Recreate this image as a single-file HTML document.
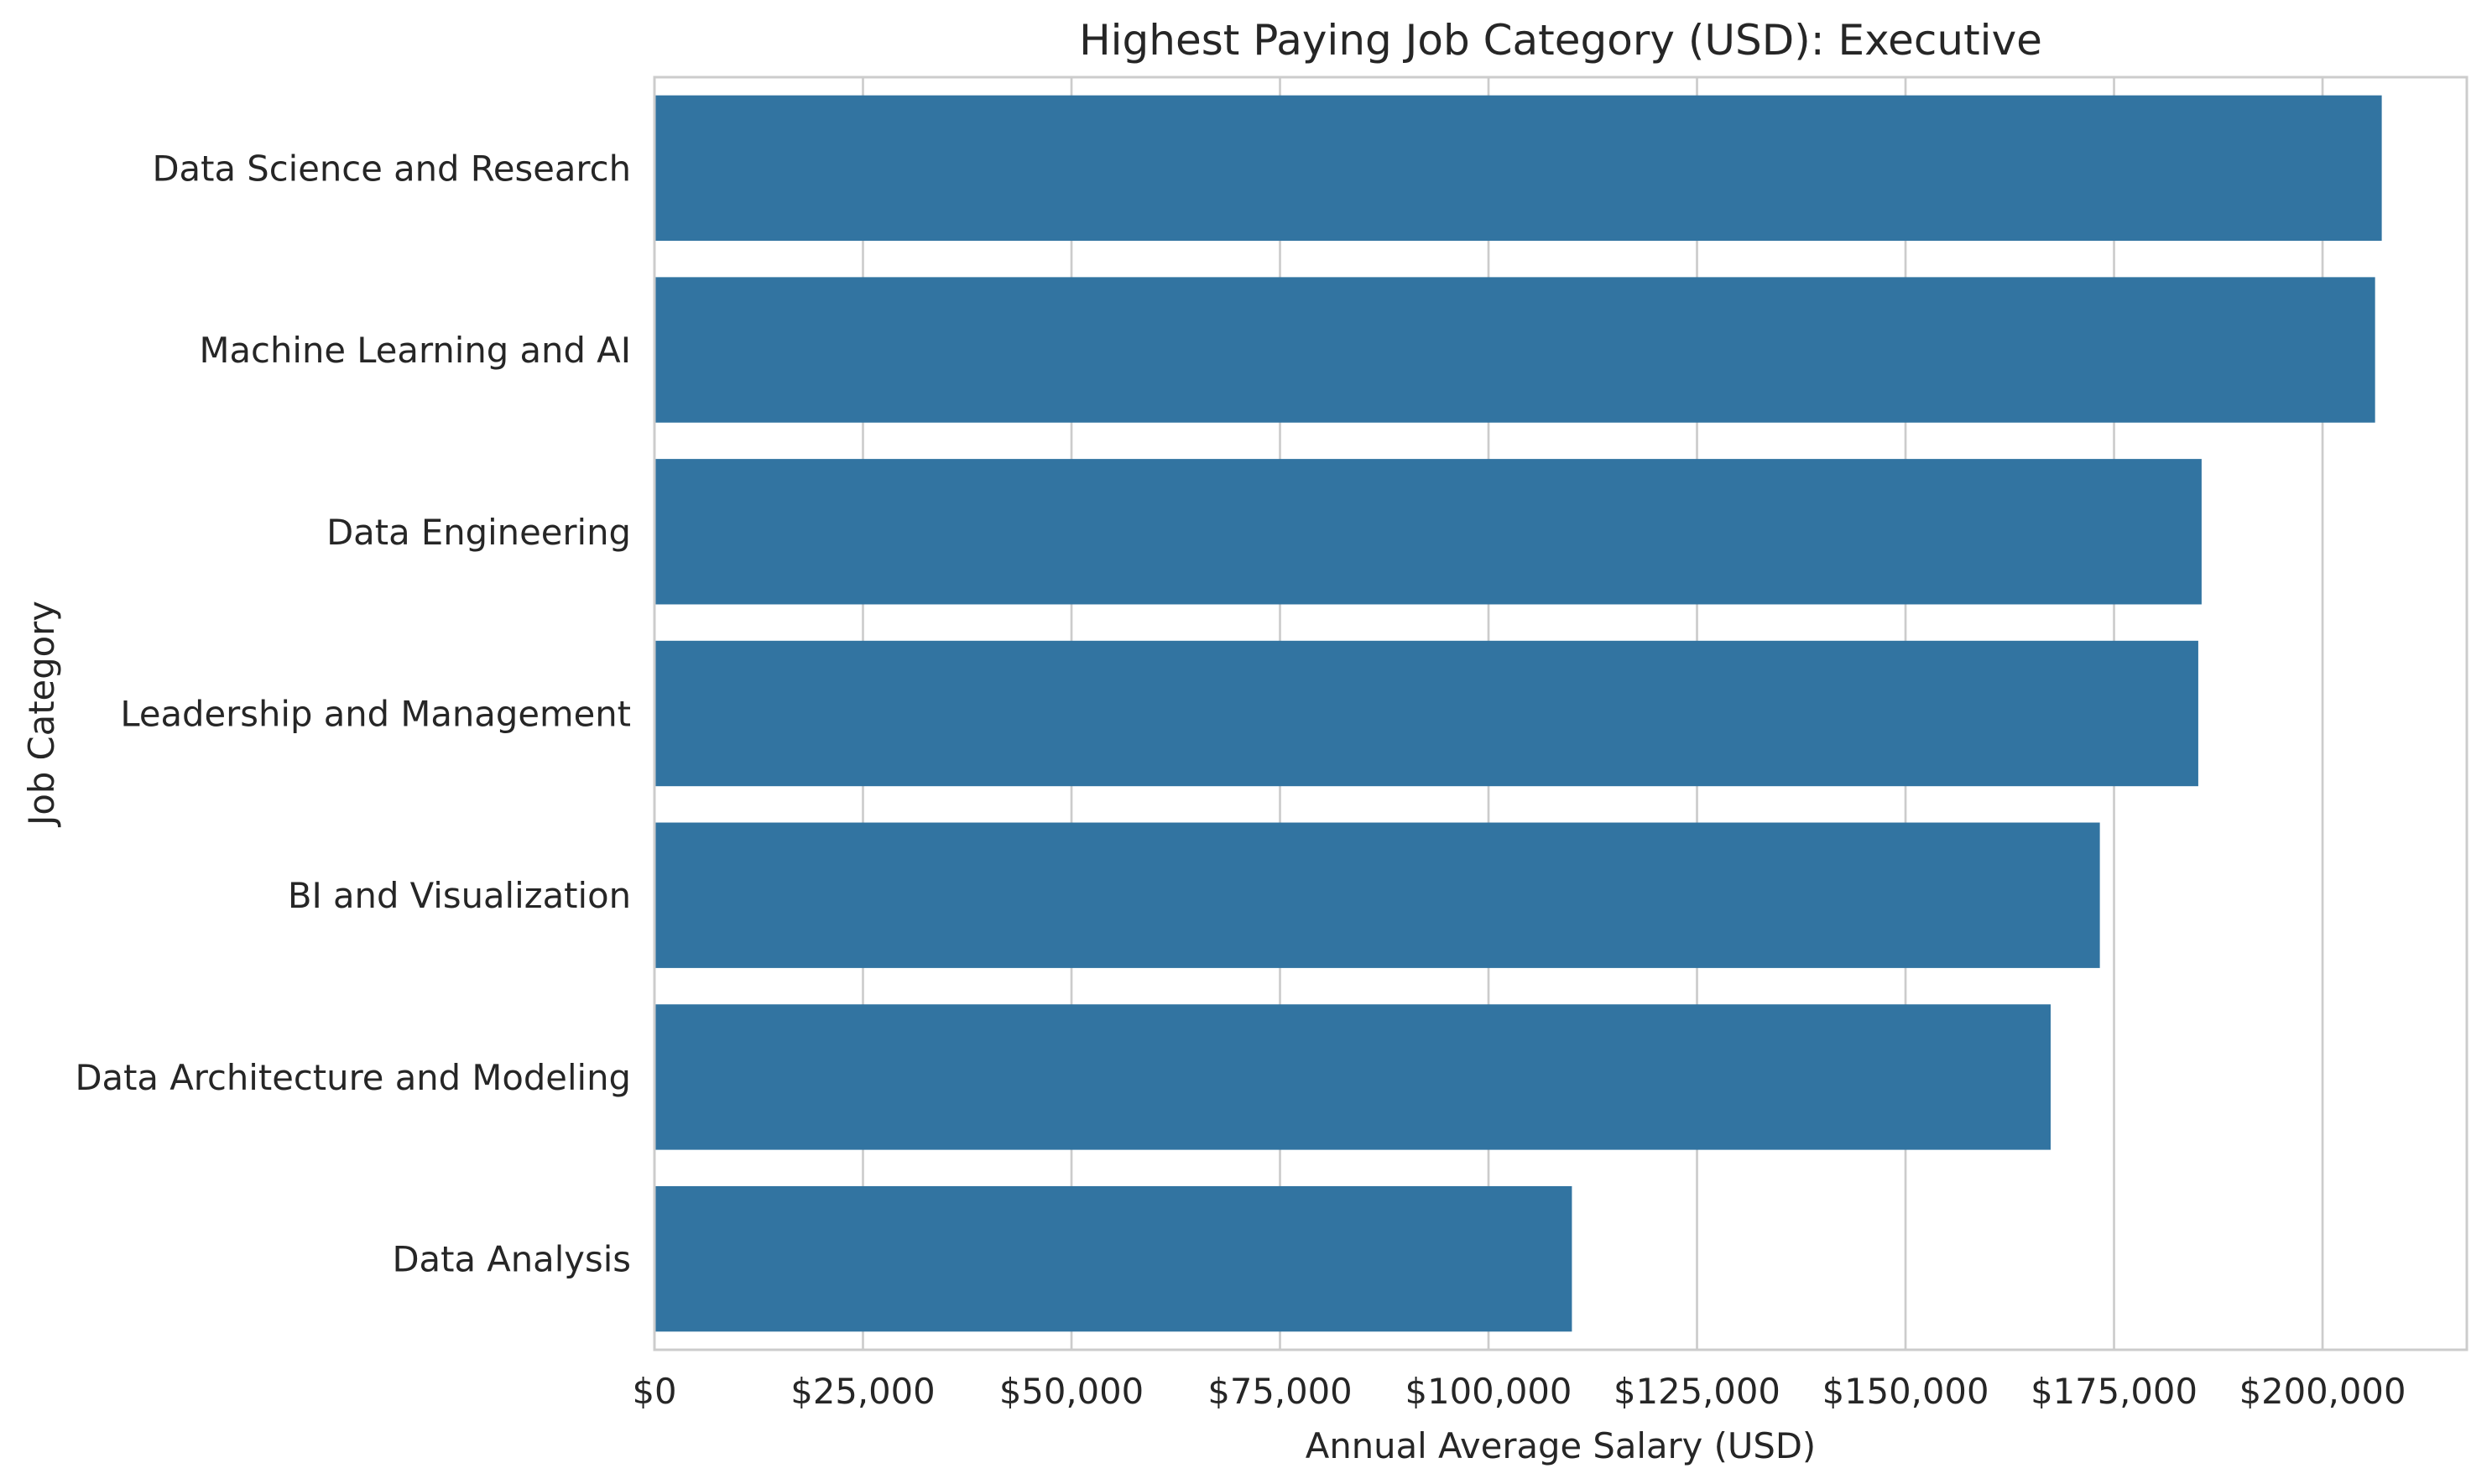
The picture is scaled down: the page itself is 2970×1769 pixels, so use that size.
<!DOCTYPE html>
<html><head><meta charset="utf-8"><style>
html,body{margin:0;padding:0;background:#fff;}
svg{display:block;font-family:"DejaVu Sans","Liberation Sans",sans-serif;}
</style></head>
<body>
<svg id="chart" width="2970" height="1769" viewBox="0 0 2970 1769" xmlns="http://www.w3.org/2000/svg">
<rect width="2970" height="1769" fill="#ffffff"/>
<g id="grid"></g>
<g id="bars"></g>
<g id="spines"></g>
<g id="xticks"></g>
<g id="yticks"></g>
<text x="1860" y="65" font-size="50" text-anchor="middle" fill="#262626">Highest Paying Job Category (USD): Executive</text>
<text x="1860" y="1738" font-size="41.7" text-anchor="middle" fill="#262626">Annual Average Salary (USD)</text>
<text x="0" y="0" font-size="41.7" text-anchor="middle" fill="#262626" transform="translate(64,850) rotate(-90)">Job Category</text>
</svg>
<script>
const categories = ["Data Science and Research","Machine Learning and AI","Data Engineering","Leadership and Management","BI and Visualization","Data Architecture and Modeling","Data Analysis"];
const salaries = [207100, 206300, 185500, 185100, 173300, 167400, 110000];
const tickValues = [0, 25000, 50000, 75000, 100000, 125000, 150000, 175000, 200000];
const tickLabels = ["$0","$25,000","$50,000","$75,000","$100,000","$125,000","$150,000","$175,000","$200,000"];

const NS = "http://www.w3.org/2000/svg";
const L = 780, R = 2940, T = 92, B = 1609;
const xMax = 217300;
function xScale(v){ return L + (v / xMax) * (R - L); }
const band = (B - T) / categories.length;
function yBand(i){ return T + i * band; }
function mk(tag, attrs, parent){
  const e = document.createElementNS(NS, tag);
  for (const k in attrs) e.setAttribute(k, attrs[k]);
  parent.appendChild(e);
  return e;
}
const grid = document.getElementById('grid');
const bars = document.getElementById('bars');
const spines = document.getElementById('spines');
const xt = document.getElementById('xticks');
const yt = document.getElementById('yticks');

tickValues.forEach((v, i) => {
  const x = xScale(v);
  const g = mk('line', {x1:x, x2:x, y1:T, y2:B, stroke:'#cccccc', 'stroke-width':2.7}, grid);
  
  
  const t = mk('text', {x:x, y:1673, 'font-size':41.7, 'text-anchor':'middle', fill:'#262626'}, xt);
  t.textContent = tickLabels[i];
  
  
});

categories.forEach((c, i) => {
  const y0 = yBand(i) + band * 0.1;
  const h = band * 0.8;
  const r = mk('rect', {x:L, y:y0, width:xScale(salaries[i]) - L, height:h, fill:'#3274a1'}, bars);
  
  
  const t = mk('text', {x:752, y:yBand(i) + band/2 + 15, 'font-size':41.7, 'text-anchor':'end', fill:'#262626'}, yt);
  t.textContent = c;
  
  
});

const f = mk('rect', {x:L, y:T, width:R-L, height:B-T, fill:'none', stroke:'#cccccc', 'stroke-width':3}, spines);


</script>
</body></html>
